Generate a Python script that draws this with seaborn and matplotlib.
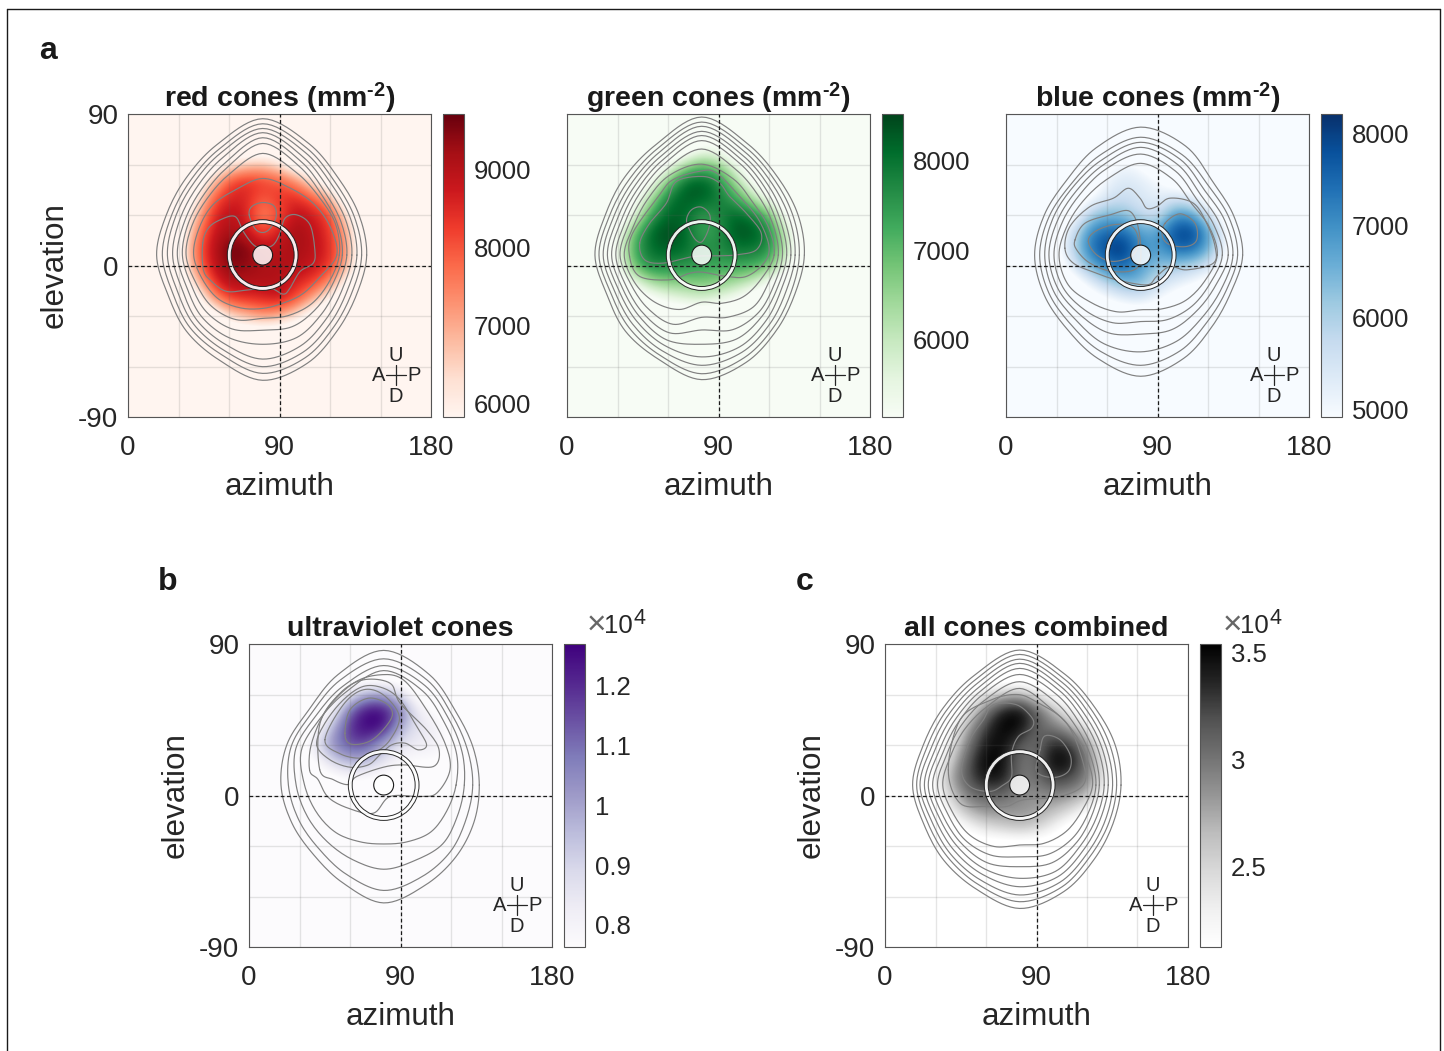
import numpy as np
import matplotlib
matplotlib.use("Agg")
import matplotlib.pyplot as plt
from matplotlib.lines import Line2D
from matplotlib.patches import Circle, Wedge
import seaborn as sns

# density read on a 10 degree grid
grid_az = [20, 30, 40, 50, 60, 70, 80, 90, 100, 110, 120, 130, 140]
grid_el = [70, 60, 50, 40, 30, 20, 10, 0, -10, -20, -30, -40]

red_density = [
    [5000, 5000, 5000, 5000, 5000, 5000, 5000, 5000, 5000, 5000, 5000, 5000, 5000],
    [5000, 5000, 5000, 5000, 6000, 6500, 6700, 6200, 5200, 5000, 5000, 5000, 5000],
    [5000, 5000, 5000, 6500, 8100, 8500, 8300, 8000, 7400, 6100, 5000, 5000, 5000],
    [5000, 5000, 5600, 7800, 8600, 8600, 7900, 8400, 8500, 8000, 6900, 5000, 5000],
    [5000, 5000, 6500, 8400, 9000, 8700, 7300, 8000, 9000, 8700, 8200, 6200, 5000],
    [5000, 5000, 7200, 8700, 9200, 8900, 8000, 8700, 9300, 8900, 8400, 7000, 5000],
    [5000, 5300, 7600, 8900, 9700, 9600, 9000, 9000, 9200, 9000, 8500, 7200, 5000],
    [5000, 5100, 7400, 8800, 9500, 9400, 9100, 9100, 9100, 8800, 8400, 7000, 5000],
    [5000, 5000, 6400, 8300, 9100, 9100, 9100, 9100, 8600, 8300, 7500, 5600, 5000],
    [5000, 5000, 5000, 7100, 8200, 8400, 8500, 8800, 8100, 7000, 5600, 5000, 5000],
    [5000, 5000, 5000, 5000, 6300, 6800, 7300, 7000, 6200, 5200, 5000, 5000, 5000],
    [5000, 5000, 5000, 5000, 5000, 5000, 5000, 5000, 5000, 5000, 5000, 5000, 5000],
]
green_density = [
    [4400, 4400, 4400, 4400, 4400, 4400, 5000, 5000, 4400, 4400, 4400, 4400, 4400],
    [4400, 4400, 4400, 4400, 5000, 6200, 6900, 6500, 5400, 4600, 4400, 4400, 4400],
    [4400, 4400, 4400, 5000, 6700, 8100, 8300, 7800, 6400, 5000, 4400, 4400, 4400],
    [4400, 4400, 4800, 6300, 7900, 8300, 8300, 7900, 7400, 6300, 5100, 4400, 4400],
    [4400, 4400, 5400, 7400, 8200, 8200, 7400, 7700, 8200, 7900, 7000, 5000, 4400],
    [4400, 5000, 6900, 8200, 8500, 8200, 7300, 7500, 8400, 8400, 7800, 6000, 4400],
    [4400, 5300, 7300, 8100, 8300, 8100, 7700, 7700, 8000, 8000, 7700, 6200, 4400],
    [4400, 5100, 7000, 7800, 7700, 7600, 7400, 7300, 7400, 7300, 7000, 5500, 4400],
    [4400, 4500, 5400, 6400, 6700, 6700, 6800, 6700, 6400, 6000, 5100, 4400, 4400],
    [4400, 4400, 4400, 4800, 5300, 5600, 5800, 5500, 5100, 4500, 4400, 4400, 4400],
    [4400, 4400, 4400, 4400, 4400, 4400, 4400, 4400, 4400, 4400, 4400, 4400, 4400],
    [4400, 4400, 4400, 4400, 4400, 4400, 4400, 4400, 4400, 4400, 4400, 4400, 4400],
]
blue_density = [
    [4300, 4300, 4300, 4300, 4300, 4300, 4300, 4300, 4300, 4300, 4300, 4300, 4300],
    [4300, 4300, 4300, 4300, 4700, 5100, 4800, 4300, 4300, 4300, 4300, 4300, 4300],
    [4300, 4300, 4300, 4400, 5100, 5400, 5300, 5000, 4500, 4300, 4300, 4300, 4300],
    [4300, 4300, 4300, 4800, 5400, 5700, 5400, 5200, 5500, 5300, 4500, 4300, 4300],
    [4300, 4300, 4600, 6000, 6500, 6300, 5800, 5500, 6900, 6900, 5600, 4500, 4300],
    [4300, 4500, 5600, 7100, 7500, 7500, 6700, 6700, 7900, 8100, 6900, 5000, 4300],
    [4300, 4600, 5900, 7300, 8000, 8200, 7100, 6800, 7500, 7600, 6700, 5000, 4300],
    [4300, 4400, 5400, 6600, 7300, 7600, 6800, 6300, 6200, 6000, 5600, 4700, 4300],
    [4300, 4300, 4400, 5200, 6000, 6500, 6500, 5700, 5300, 5000, 4600, 4300, 4300],
    [4300, 4300, 4300, 4400, 4800, 5200, 5400, 5000, 4600, 4300, 4300, 4300, 4300],
    [4300, 4300, 4300, 4300, 4300, 4300, 4300, 4300, 4300, 4300, 4300, 4300, 4300],
    [4300, 4300, 4300, 4300, 4300, 4300, 4300, 4300, 4300, 4300, 4300, 4300, 4300],
]
uv_density = [
    [.70, .70, .70, .70, .70, .70, .70, .70, .70, .70, .70, .70, .70],
    [.70, .70, .70, .70, .85, .98, 1.0, .88, .72, .70, .70, .70, .70],
    [.70, .70, .70, .80, 1.12, 1.27, 1.27, 1.1, .84, .76, .70, .70, .70],
    [.70, .70, .74, .98, 1.2, 1.27, 1.25, .98, .86, .82, .74, .70, .70],
    [.70, .70, .88, 1.05, 1.15, 1.15, .98, .86, .82, .82, .74, .70, .70],
    [.70, .70, .76, .90, .98, .95, .85, .78, .76, .76, .72, .70, .70],
    [.70, .70, .70, .72, .76, .76, .74, .72, .70, .70, .70, .70, .70],
    [.70, .70, .70, .70, .70, .70, .70, .70, .70, .70, .70, .70, .70],
    [.70, .70, .70, .70, .70, .70, .70, .70, .70, .70, .70, .70, .70],
    [.70, .70, .70, .70, .70, .70, .70, .70, .70, .70, .70, .70, .70],
    [.70, .70, .70, .70, .70, .70, .70, .70, .70, .70, .70, .70, .70],
    [.70, .70, .70, .70, .70, .70, .70, .70, .70, .70, .70, .70, .70],
]
all_density = [
    [1.9, 1.9, 1.9, 1.9, 1.9, 1.9, 1.9, 1.9, 1.9, 1.9, 1.9, 1.9, 1.9],
    [1.9, 1.9, 1.9, 2.1, 2.4, 2.6, 2.7, 2.4, 2.1, 1.9, 1.9, 1.9, 1.9],
    [1.9, 1.9, 1.9, 2.4, 3.0, 3.45, 3.55, 3.15, 2.7, 2.3, 1.9, 1.9, 1.9],
    [1.9, 1.9, 2.2, 2.8, 3.3, 3.55, 3.5, 3.1, 3.0, 2.8, 2.4, 1.9, 1.9],
    [1.9, 1.9, 2.4, 3.0, 3.45, 3.5, 3.15, 3.0, 3.4, 3.3, 2.9, 2.2, 1.9],
    [1.9, 2.1, 2.6, 3.2, 3.55, 3.5, 3.0, 3.05, 3.55, 3.5, 3.0, 2.4, 1.9],
    [1.9, 2.2, 2.8, 3.2, 3.45, 3.45, 3.0, 3.0, 3.3, 3.2, 2.95, 2.4, 1.9],
    [1.9, 2.1, 2.6, 3.0, 3.1, 3.05, 2.9, 2.85, 2.9, 2.85, 2.7, 2.2, 1.9],
    [1.9, 1.9, 2.3, 2.7, 2.85, 2.85, 2.85, 2.8, 2.65, 2.45, 2.1, 1.9, 1.9],
    [1.9, 1.9, 1.9, 2.15, 2.4, 2.5, 2.6, 2.5, 2.25, 1.9, 1.9, 1.9, 1.9],
    [1.9, 1.9, 1.9, 1.9, 1.9, 1.9, 1.9, 1.9, 1.9, 1.9, 1.9, 1.9, 1.9],
    [1.9, 1.9, 1.9, 1.9, 1.9, 1.9, 1.9, 1.9, 1.9, 1.9, 1.9, 1.9, 1.9],
]

# outer contours: radius in degrees around the eye centre, every 22.5 deg counterclockwise from east
red_radii = [
    [61.8, 62, 64, 71.7, 81, 71, 64.5, 62, 63, 61, 64, 67.5, 74.4, 69.5, 63, 60.5],
    [58.8, 59, 61, 68.7, 78, 68, 61.5, 59, 59.6, 58, 61, 64, 70.3, 66, 60, 57.5],
    [56, 56.5, 58.5, 66, 75.2, 65.5, 59, 56.5, 56.6, 55, 58, 61, 66.3, 62.5, 57, 54.5],
    [53, 53.5, 55.5, 63, 72.7, 62.5, 56, 53.5, 53.5, 52, 55, 57.5, 61.8, 58.5, 53.5, 51.5],
    [50, 50.5, 52.5, 60, 69.7, 59, 53, 50.5, 50.7, 49, 51.5, 53, 53, 53, 49.5, 48],
    [47.3, 48, 50, 57, 66.3, 56, 50, 48, 47.7, 46, 47.5, 47.5, 44.6, 46, 45, 45],
    [45.5, 47, 48, 52.9, 60.4, 52, 47, 45.5, 45.5, 43, 43, 41.5, 37.6, 39, 41, 42.5],
    [44, 43.5, 43, 43, 45.5, 42, 42, 41, 41, 38.5, 37, 34, 31.7, 31, 33, 36],
]
green_radii = [
    [61, 62, 64.5, 71.5, 82, 71, 65, 62, 63.4, 61, 64, 67, 74, 69, 63, 60],
    [58, 59, 62, 69, 79, 68.5, 62, 59.5, 61, 58.5, 61, 64.5, 70.5, 66, 60.5, 57.5],
    [55.5, 56.5, 59.5, 66.5, 76.5, 66, 59.5, 57, 58.5, 56, 58, 61.5, 65.5, 62.5, 57.5, 54.5],
    [53, 53.5, 57, 64, 73.5, 63.5, 57, 54.5, 56, 53.5, 55, 58, 60.5, 59, 54.5, 51.5],
    [50.5, 51, 54.5, 61.5, 71, 61, 54.5, 52, 53.5, 51, 52, 54.5, 53, 54, 51, 49],
    [48, 48.5, 52, 59, 68, 58.5, 52, 49.5, 51, 48.5, 49, 50, 44.5, 48, 48, 46.5],
    [45.5, 46, 48.5, 54.5, 63, 55, 49, 47, 48.5, 45.5, 45, 44.5, 37, 40, 43.5, 43],
    [43, 43, 43.5, 49, 54, 51, 46, 44, 46, 43, 39.5, 35, 28, 31, 35, 38],
]
blue_radii = [
    [60.6, 60, 61, 70, 76, 69, 62.5, 62, 63, 62, 62, 66.5, 72, 66.5, 60, 58],
    [57.6, 57, 57.5, 64.5, 70, 64, 59, 59, 60, 59, 58.5, 62, 65.5, 61.5, 56, 55],
    [54.8, 54, 54, 61.5, 67, 61, 57, 56.5, 57, 56, 54.5, 57, 57.5, 55.5, 52, 52],
    [52, 50.5, 50.5, 58, 64, 58, 54, 53.5, 54.5, 53, 50.5, 50, 47, 48, 47, 48],
    [48.5, 47, 47, 54, 60, 55, 51, 50.5, 51.5, 50, 46.5, 43.5, 39.5, 41.5, 43, 44.5],
    [45.5, 44, 43, 49, 54.5, 49.5, 47, 47, 48.5, 46.5, 40.5, 36.5, 32.5, 34.5, 38, 41],
]
uv_radii = [
    [56.8, 57.6, 61, 71, 80, 71, 63, 62.3, 61, 59, 58.7, 63, 70, 64.4, 60.5, 58],
    [52.9, 54, 58, 67.5, 75, 67.5, 60.5, 59.5, 56.6, 54.5, 54, 57.5, 62.6, 59, 56, 53],
    [47.9, 50.5, 55, 64, 71, 63.5, 57.5, 56.5, 52, 49, 47.5, 48, 50, 48.5, 49.5, 47.5],
    [43, 47, 51.5, 60.5, 68, 59.5, 54.5, 53, 47, 43, 40, 36.5, 35, 36.5, 39.5, 40.5],
]
all_radii = [
    [60.2, 61.5, 64, 71, 80.2, 70.5, 64.5, 62, 63.6, 61.5, 63.5, 67, 73.3, 68.5, 62.5, 60],
    [57.6, 58.5, 61.5, 68.5, 77.6, 68, 62, 59.5, 61.2, 59, 60.5, 64, 69.3, 65.5, 59.5, 57.5],
    [55.2, 56, 59, 66, 74.8, 65.5, 59.5, 57, 59.2, 56.5, 58, 61, 65.3, 62.5, 57, 55],
    [52.6, 53.5, 56.5, 63.5, 72.3, 63, 57, 54.5, 56.6, 54, 55, 57.5, 60.4, 59, 54, 52],
    [50.2, 51, 54, 61, 69.3, 60.5, 54.5, 52, 54.3, 51.5, 52, 54, 55.4, 55.5, 51, 49.5],
    [47.3, 48, 51, 58, 65.7, 58, 52, 49.5, 51.7, 49, 49, 50, 48.5, 50, 48, 46.5],
    [45.3, 45.5, 48, 54, 61.4, 54.5, 49.5, 47, 48.8, 46, 46, 45, 42.6, 44.5, 44.5, 44],
    [43.3, 43, 45, 49, 57.4, 50.5, 46.5, 44.5, 45.7, 43, 42, 39.5, 35.6, 37.5, 39, 40],
]

# inner contours as (azimuth, elevation) points
red_inner = [
    [(72, 30), (73.5, 35), (80, 37.4), (86.7, 35.4), (88, 29), (84.4, 22), (80, 19.6), (75.4, 22)],
    [(44.4, 13.3), (47.7, 22.2), (54.7, 27.1), (63.6, 29.1), (68.5, 20.2), (74.5, 12.3), (80, 10.3),
     (86.3, 12.3), (90.3, 19.2), (93.3, 28.1), (100.2, 30.1), (108.1, 24.2), (111, 9.3), (110, 1.4),
     (102.2, -3.6), (96.2, -13.5), (92.3, -17), (84.4, -13.5), (71.5, -14.5), (58.6, -15.4),
     (49.7, -9.5), (44.8, -2.6)],
]
green_inner = [
    [(71, 27), (73.9, 33), (79.8, 34.7), (84.8, 30), (84.2, 22), (80.4, 14.3), (76.8, 14.9), (73.3, 20.2)],
    [(43.2, 13.3), (46.1, 3.4), (57, 1.4), (74.9, 5.3), (88.7, 5.7), (100.6, 6.3), (112.5, 9.3),
     (115.4, 19.2), (106.5, 31.1), (96.6, 41), (90.7, 48.9), (80.8, 52.9), (65, 49.9), (59, 37), (49.1, 25.1)],
    [(37.2, 5.3), (43.2, -6.5), (61, -8.5), (72.9, -4.6), (80.8, -4), (94.6, -6.5), (106.5, -6.5),
     (117, 1.4), (120, 11.3), (114, 27), (102.6, 41), (88.7, 55), (78.8, 56),
     (63, 51), (55, 42), (39, 19.2)],
]
blue_inner = [
    [(35, 10.3), (38, 23.2), (49.9, 35), (63.8, 40), (72.7, 45.9), (79.6, 40), (83.6, 34), (89.5, 35),
     (97.4, 40), (111.3, 37), (119.2, 25.1), (124.2, 11.3), (123.2, 1.4), (107.3, -2.6), (97.4, -0.6),
     (89.5, -6.5), (83.6, -11.5), (65.7, -8.5), (53.9, -4.6), (40, 1.4)],
    [(41, 15.2), (46.9, 25.1), (61.8, 30.1), (73.7, 32.1), (79.2, 19.2), (78.6, -0.6), (63.8, -3.6),
     (49.9, 1.4), (42, 9.3)],
    [(48.9, 14.3), (52.9, 20.2), (63.8, 24.2), (74.7, 23.2), (78.6, 15.2), (75.6, 6.3), (63.8, 2.4), (53.9, 6.3)],
    [(94.5, 25.1), (103.4, 30.7), (112.3, 25.1), (113.3, 15.2), (107.3, 11.3), (97.4, 12.3), (92.9, 17.2)],
]
uv_inner = [
    [(36, 15), (41, 9.5), (47, -1), (58.8, -7.5), (73.9, -10.5), (83.8, -0.6), (101.6, -0.6), (111.5, 1.4),
     (119.4, 15.2), (116.4, 31.1), (105.5, 50.9), (91.7, 68.7), (77.8, 71.7), (62, 66.7), (46.1, 50.9), (37.2, 31.1)],
    [(42, 15.4), (49.9, 9.5), (58.8, 6.5), (64, 11.3), (79.8, 16.8), (91.7, 18.2), (109.5, 17.2),
     (112.9, 27.1), (105.5, 39), (89.7, 54.9), (83.8, 66.7), (67.9, 68.7), (54.1, 60.8), (42.2, 43)],
    [(40.2, 30.1), (48.1, 21.2), (60, 16.8), (70.9, 18.2), (77.8, 24.2), (84.8, 30.1), (92.7, 31.1),
     (100.6, 27.1), (105.5, 30.1), (99.6, 41), (89.7, 56.8), (79.8, 63.8), (67.9, 64.8), (56, 56.8), (45.1, 43)],
    [(45.1, 33.1), (54.1, 24.8), (65.9, 22.2), (74.9, 25.5), (83.8, 33.1), (89.3, 46.9), (79.8, 59.8),
     (67.9, 62.8), (56, 53.9)],
    [(57, 37), (60, 50.9), (70.9, 57.8), (81.8, 54.5), (85.1, 47.3), (77.8, 37), (69.9, 31.5), (60, 30.7)],
]
all_inner = [
    [(37.6, 15.2), (44.6, 45), (62.4, 56.5), (78.2, 60), (90.1, 55.5), (107.9, 43), (117.8, 19.2),
     (117.8, 6.3), (104, -0.6), (82.2, -2.6), (72.3, -6.5), (60.4, -6.5), (44.6, -4.6)],
    [(45.5, 15.2), (50.5, 33), (58.4, 44.9), (64.4, 53.9), (78.2, 53.9), (87.5, 45.9), (87.1, 40),
     (79.2, 35), (75.2, 25.1), (75.2, 11.3), (70.3, 6.3), (62.4, 2.4), (50.5, 5.3)],
    [(92.1, 27.1), (95, 35.4), (104, 33.1), (110.3, 23.2), (108.9, 14.3), (100, 10.7), (90.1, 14.3)],
]

# colour ranges and ticks
red_range = (5833, 9718)
green_range = (5124, 8528)
blue_range = (4924, 8206)
uv_range = (.763, 1.27)
all_range = (2.126, 3.542)
red_ticks = [6000, 7000, 8000, 9000]
green_ticks = [6000, 7000, 8000]
blue_ticks = [5000, 6000, 7000, 8000]
uv_ticks = [.8, .9, 1, 1.1, 1.2]
all_ticks = [2.5, 3, 3.5]
uv_labels = ["0.8", "0.9", "1", "1.1", "1.2"]
all_labels = ["2.5", "3", "3.5"]

eye_az, eye_el = 80, 6.2
W, H = 1444, 1051
TXT = "#262626"

sns.set_theme(style="white")
plt.rcParams["font.family"] = ["Liberation Sans", "DejaVu Sans"]
plt.rcParams["mathtext.fontset"] = "custom"
plt.rcParams["mathtext.rm"] = "Liberation Sans:bold"
plt.rcParams["mathtext.default"] = "regular"


def smooth_closed(pts, n=10):
    # closed Catmull-Rom through the read points, just so the outline looks drawn not polygonal
    p = np.asarray(pts, dtype=float)
    t = np.linspace(0, 1, n, endpoint=False)[:, None]
    out = []
    for i in range(len(p)):
        p0, p1, p2, p3 = p[i - 1], p[i], p[(i + 1) % len(p)], p[(i + 2) % len(p)]
        out.append(.5 * (2 * p1 + (p2 - p0) * t + (2 * p0 - 5 * p1 + 4 * p2 - p3) * t ** 2
                         + (3 * p1 - p0 - 3 * p2 + p3) * t ** 3))
    out = np.vstack(out + [p[:1]])
    return out[:, 0], out[:, 1]


def radial_points(radii):
    bearing = np.deg2rad(np.arange(len(radii)) * 22.5)
    return np.column_stack([eye_az + np.array(radii) * np.cos(bearing),
                            eye_el + np.array(radii) * np.sin(bearing)])


def panel(left, top, density, radii, inner, cmap_name, vrange, ticks, title,
          tick_labels=None, scale=False, show_y=True):
    ax = fig.add_axes([left / W, 1 - (top + 303) / H, 303 / W, 303 / H])
    cax = fig.add_axes([(left + 315) / W, 1 - (top + 303) / H, 21 / W, 303 / H])
    cmap = sns.color_palette(cmap_name, as_cmap=True)
    ax.set_facecolor(cmap(0.0))
    im = ax.imshow(density, cmap=cmap, vmin=vrange[0], vmax=vrange[1], aspect="auto",
                   extent=[grid_az[0] - 5, grid_az[-1] + 5, grid_el[-1] - 5, grid_el[0] + 5],
                   interpolation="bicubic", interpolation_stage="data", zorder=1)
    cb = fig.colorbar(im, cax=cax)
    cb.set_ticks(ticks)
    if tick_labels:
        cb.set_ticklabels(tick_labels)
    cb.ax.tick_params(direction="in", length=2.5, width=.6, color="#444444", pad=7, labelsize=18.5, labelcolor=TXT)
    cb.outline.set_edgecolor("#555555")
    cb.outline.set_linewidth(.8)

    outlines = [radial_points(r) for r in radii] + list(inner)
    for pts in outlines:
        xs, ys = smooth_closed(pts)
        sns.lineplot(x=xs, y=ys, sort=False, estimator=None, errorbar=None, color="#808080",
                     linewidth=.85, ax=ax, legend=False, zorder=3)

    ax.axvline(90, color="k", lw=.9, ls=(0, (3, 2)), zorder=6)
    ax.axhline(0, color="k", lw=.9, ls=(0, (3, 2)), zorder=6)
    ax.add_patch(Wedge((eye_az, eye_el), 21, 0, 360, width=2.3, facecolor="white", edgecolor="k",
                       lw=.7, alpha=.92, zorder=5))
    ax.add_patch(Circle((eye_az, eye_el), 5.9, facecolor=(1, 1, 1, .85), edgecolor="k", lw=.8, zorder=5))

    ax.plot([153, 165], [-65, -65], color=TXT, lw=.9, zorder=6)
    ax.plot([159, 159], [-59, -71], color=TXT, lw=.9, zorder=6)
    for s, x, y in [("U", 159, -53.5), ("D", 159, -78), ("A", 149, -65.5), ("P", 170, -65.5)]:
        ax.text(x, y, s, ha="center", va="center", fontsize=14.5, color=TXT, zorder=6)

    ax.set_xlim(0, 180)
    ax.set_ylim(-90, 90)
    ax.set_xticks([0, 90, 180], ["0", "90", "180"])
    ax.set_yticks([-90, 0, 90], ["-90", "0", "90"] if show_y else ["", "", ""])
    ax.set_xticks([30, 60, 120, 150], minor=True)
    ax.set_yticks([-60, -30, 30, 60], minor=True)
    ax.grid(True, which="both", color="#606060", alpha=.16, lw=1)
    ax.set_axisbelow(False)
    ax.tick_params(which="both", length=0)
    ax.tick_params(axis="both", labelsize=20, labelcolor=TXT)
    ax.tick_params(axis="x", pad=13)
    ax.tick_params(axis="y", pad=7)
    ax.set_xlabel("azimuth", fontsize=22.6, color=TXT, va="center")
    ax.xaxis.set_label_coords(.5, -.232)
    if show_y:
        ax.set_ylabel("elevation", fontsize=22.6, color=TXT, va="center")
        ax.yaxis.set_label_coords(-.241, .5)
    for s in ax.spines.values():
        s.set_visible(True)
        s.set_edgecolor("#555555")
        s.set_linewidth(.8)
    ax.set_title(title, fontsize=20.5, fontweight="bold", color="k", pad=6 if scale else 5)
    if scale:
        y = 1 - (top - 11) / H
        fig.text((left + 384) / W, y, "10", fontsize=18.5, color=TXT, ha="right", va="baseline")
        fig.text((left + 384) / W, y + 9 / H, "4", fontsize=15.5, color=TXT, ha="left", va="baseline")
        fig.text((left + 347) / W, y - 1 / H, "\u00d7", fontsize=24, color="#666666", ha="center", va="baseline")


fig = plt.figure(figsize=(W / 100, H / 100), dpi=100, facecolor="white")

panel(128, 114, red_density, red_radii, red_inner, "Reds", red_range, red_ticks, r"red cones (mm$^{\text{-2}}$)")
panel(567, 114, green_density, green_radii, green_inner, "Greens", green_range, green_ticks,
      r"green cones (mm$^{\text{-2}}$)", show_y=False)
panel(1006, 114, blue_density, blue_radii, blue_inner, "Blues", blue_range, blue_ticks,
      r"blue cones (mm$^{\text{-2}}$)", show_y=False)
panel(249, 644, uv_density, uv_radii, uv_inner, "Purples", uv_range, uv_ticks, "ultraviolet cones", uv_labels, True)
panel(885, 644, all_density, all_radii, all_inner, "Greys", all_range, all_ticks, "all cones combined", all_labels, True)

for s, x, y in [("a", 39, 59), ("b", 158, 590), ("c", 796, 590)]:
    fig.text(x / W, 1 - y / H, s, fontsize=23, fontweight="bold", color="k", ha="left", va="baseline")

# figure border, open at the bottom
for xs, ys in [([7, 7], [9, 1051]), ([7, 1440], [9, 9]), ([1440, 1440], [9, 1051])]:
    fig.add_artist(Line2D([x / W for x in xs], [1 - y / H for y in ys], color="k", lw=1))

fig.savefig("out.png", dpi=100)
